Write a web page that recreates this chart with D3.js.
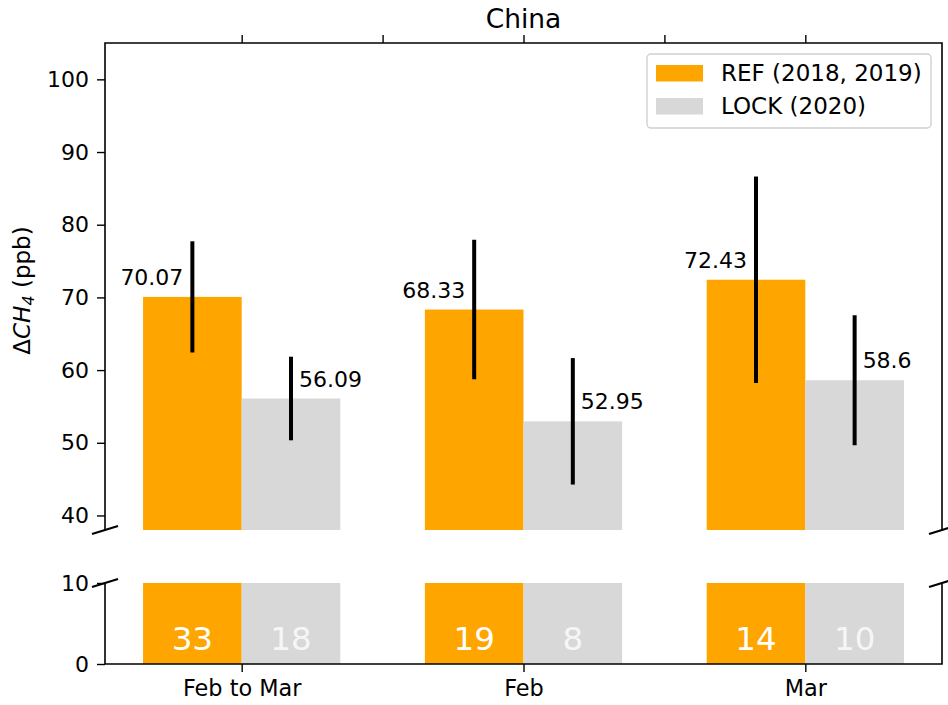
<!DOCTYPE html>
<html>
<head>
<meta charset="utf-8">
<script src="https://cdn.jsdelivr.net/npm/d3@7"></script>
<style>
  html, body { margin: 0; padding: 0; background: #ffffff; }
  svg { display: block; font-family: "DejaVu Sans", sans-serif; }
</style>
</head>
<body>
<svg id="chart" width="948" height="705"></svg>
<script>
// Methane enhancement over China, reference years vs lockdown year
const categories = ["Feb to Mar", "Feb", "Mar"];
const refValues = [70.07, 68.33, 72.43];
const lockValues = [56.09, 52.95, 58.6];
const refErr = [7.65, 9.6, 14.2];
const lockErr = [5.75, 8.7, 8.95];
const refCounts = [33, 19, 14];
const lockCounts = [18, 8, 10];
const upperTicks = [40, 50, 60, 70, 80, 90, 100];
const lowerTicks = [0, 10];
const topAxisTicks = [0, 0.5, 1, 1.5, 2];
const seriesNames = ["REF (2018, 2019)", "LOCK (2020)"];
const seriesColors = ["#ffa500", "#d8d8d8"];

const barWidth = 0.35;
const fontSize = 22;
const svg = d3.select("#chart");

const left = 105, right = 942;
const upperTop = 43, upperBottom = 530;
const lowerTop = 583, lowerBottom = 664;

const x = d3.scaleLinear().domain([-0.485, 2.485]).range([left, right]);
const yUp = d3.scaleLinear().domain([38, 105]).range([upperBottom, upperTop]);
const yLo = d3.scaleLinear().domain([0, 10]).range([lowerBottom, lowerTop]);

const bars = [];
categories.forEach((c, i) => {
  bars.push({i, s: 0, v: refValues[i], e: refErr[i], n: refCounts[i], x0: i - barWidth, x1: i});
  bars.push({i, s: 1, v: lockValues[i], e: lockErr[i], n: lockCounts[i], x0: i, x1: i + barWidth});
});

const defs = svg.append("defs");
defs.append("clipPath").attr("id", "clipUp").append("rect")
  .attr("x", left).attr("y", upperTop).attr("width", right - left).attr("height", upperBottom - upperTop);
defs.append("clipPath").attr("id", "clipLo").append("rect")
  .attr("x", left).attr("y", lowerTop).attr("width", right - left).attr("height", lowerBottom - lowerTop);

// ---- upper panel ----
const up = svg.append("g");
up.append("g").attr("clip-path", "url(#clipUp)")
  .selectAll("rect").data(bars).join("rect")
  .attr("x", d => x(d.x0))
  .attr("width", d => x(d.x1) - x(d.x0))
  .attr("y", d => yUp(d.v))
  .attr("height", d => yUp(0) - yUp(d.v))
  .attr("fill", d => seriesColors[d.s]);

up.append("g").attr("clip-path", "url(#clipUp)")
  .selectAll("line").data(bars).join("line")
  .attr("x1", d => x((d.x0 + d.x1) / 2))
  .attr("x2", d => x((d.x0 + d.x1) / 2))
  .attr("y1", d => yUp(d.v - d.e))
  .attr("y2", d => yUp(d.v + d.e))
  .attr("stroke", "#000").attr("stroke-width", 4);

up.append("g").selectAll("text").data(bars).join("text")
  .attr("x", d => d.s === 0 ? x((d.x0 + d.x1) / 2) - 9 : x((d.x0 + d.x1) / 2) + 8)
  .attr("y", d => yUp(d.v) - 12)
  .attr("text-anchor", d => d.s === 0 ? "end" : "start")
  .attr("font-size", 22)
  .attr("fill", "#000")
  .text(d => d.v);

// upper y axis
const axUp = up.append("g").attr("transform", `translate(${left},0)`)
  .call(d3.axisLeft(yUp).tickValues(upperTicks).tickSize(8).tickPadding(8).tickFormat(d3.format("d")));
axUp.select(".domain").remove();
axUp.selectAll(".tick line").attr("stroke", "#000").attr("stroke-width", 1.4);
axUp.selectAll(".tick text").attr("font-size", fontSize).attr("fill", "#000")
  .attr("font-family", "DejaVu Sans, sans-serif");

// upper top axis ticks
const axTop = up.append("g").attr("transform", `translate(0,${upperTop})`)
  .call(d3.axisTop(x).tickValues(topAxisTicks).tickSize(8).tickFormat(""));
axTop.select(".domain").remove();
axTop.selectAll(".tick line").attr("stroke", "#000").attr("stroke-width", 1.4);

// upper spines
up.append("path")
  .attr("d", `M${left},${upperBottom}V${upperTop}H${right}V${upperBottom}`)
  .attr("fill", "none").attr("stroke", "#000").attr("stroke-width", 1.6);

// title
svg.append("text").attr("x", x(1)).attr("y", 28)
  .attr("text-anchor", "middle").attr("font-size", 26.5).attr("fill", "#000")
  .text("China");

// y label
const yl = svg.append("text")
  .attr("transform", `translate(30,${(upperTop + upperBottom) / 2 + 4}) rotate(-90)`)
  .attr("text-anchor", "middle").attr("font-size", 23).attr("fill", "#000");
yl.append("tspan").text("Δ");
yl.append("tspan").attr("font-style", "italic").text("CH");
yl.append("tspan").attr("font-style", "italic").attr("font-size", 16).attr("dy", 4).text("4");
yl.append("tspan").attr("dy", -4).text(" (ppb)");

// legend
const lg = svg.append("g");
lg.append("rect").attr("x", 647).attr("y", 54).attr("width", 284).attr("height", 74)
  .attr("rx", 4).attr("fill", "#fff").attr("fill-opacity", 0.8)
  .attr("stroke", "#d0d0d0").attr("stroke-width", 1.4);
seriesNames.forEach((name, k) => {
  const yy = 65 + k * 33;
  lg.append("rect").attr("x", 656).attr("y", yy).attr("width", 47).attr("height", 16.5)
    .attr("fill", seriesColors[k]);
  lg.append("text").attr("x", 721).attr("y", yy + 16).attr("font-size", 23).attr("fill", "#000")
    .text(name);
});

// ---- lower panel ----
const lo = svg.append("g");
lo.append("g").attr("clip-path", "url(#clipLo)")
  .selectAll("rect").data(bars).join("rect")
  .attr("x", d => x(d.x0))
  .attr("width", d => x(d.x1) - x(d.x0))
  .attr("y", d => yLo(d.v))
  .attr("height", d => yLo(0) - yLo(d.v))
  .attr("fill", d => seriesColors[d.s]);

lo.append("g").selectAll("text").data(bars).join("text")
  .attr("x", d => x((d.x0 + d.x1) / 2))
  .attr("y", lowerBottom - 14)
  .attr("text-anchor", "middle")
  .attr("font-size", 32.5)
  .attr("fill", "#fff").attr("fill-opacity", d => d.s === 0 ? 1 : 0.8)
  .text(d => d.n);

const axLo = lo.append("g").attr("transform", `translate(${left},0)`)
  .call(d3.axisLeft(yLo).tickValues(lowerTicks).tickSize(8).tickPadding(8).tickFormat(d3.format("d")));
axLo.select(".domain").remove();
axLo.selectAll(".tick line").attr("stroke", "#000").attr("stroke-width", 1.4);
axLo.selectAll(".tick text").attr("font-size", fontSize).attr("fill", "#000")
  .attr("font-family", "DejaVu Sans, sans-serif");

const axBot = lo.append("g").attr("transform", `translate(0,${lowerBottom})`)
  .call(d3.axisBottom(x).tickValues(categories.map((c, i) => i)).tickSize(8).tickPadding(8)
    .tickFormat(i => categories[i]));
axBot.select(".domain").remove();
axBot.selectAll(".tick line").attr("stroke", "#000").attr("stroke-width", 1.4);
axBot.selectAll(".tick text").attr("font-size", 22.4).attr("fill", "#000")
  .attr("font-family", "DejaVu Sans, sans-serif");

lo.append("path")
  .attr("d", `M${left},${lowerTop}V${lowerBottom}H${right}V${lowerTop}`)
  .attr("fill", "none").attr("stroke", "#000").attr("stroke-width", 1.6);

// broken-axis marks
const marks = [[left, upperBottom], [right, upperBottom], [left, lowerTop], [right, lowerTop]];
svg.append("g").selectAll("line").data(marks).join("line")
  .attr("x1", d => d[0] - 13).attr("y1", d => d[1] + 4)
  .attr("x2", d => d[0] + 13).attr("y2", d => d[1] - 4)
  .attr("stroke", "#000").attr("stroke-width", 2);
</script>
</body>
</html>
